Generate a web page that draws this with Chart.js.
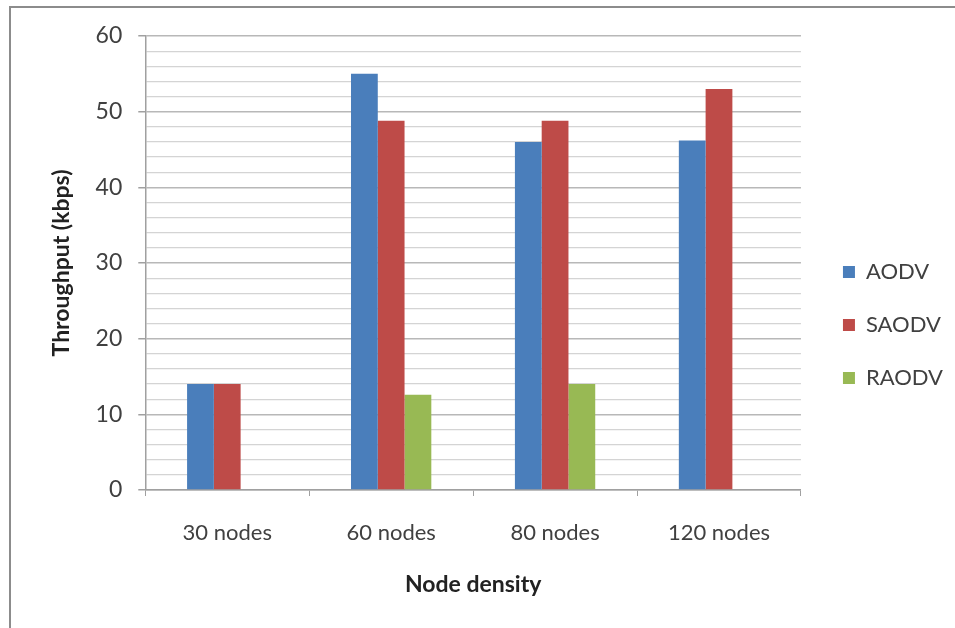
<!DOCTYPE html>
<html>
<head>
<meta charset="utf-8">
<script src="https://cdn.jsdelivr.net/npm/chart.js@4"></script>
<style>
    html, body { margin: 0; padding: 0; background: #fff; }
    #frame {
        position: absolute; left: 9px; top: 6px; width: 946px; height: 622px;
        border-left: 2px solid #8c8c8c; border-top: 2px solid #8c8c8c;
    }
    #wrap { position: absolute; left: 0; top: 0; width: 955px; height: 628px; }
</style>
</head>
<body>
<div id="frame"></div>
<div id="wrap"><canvas id="chart"></canvas></div>
<script>
const categories = ["30 nodes", "60 nodes", "80 nodes", "120 nodes"];
const aodv = [14, 55, 46, 46.2];
const saodv = [14, 48.8, 48.8, 53];
const raodv = [0, 12.6, 14, 0];
const yTicks = [0, 10, 20, 30, 40, 50, 60];

const font = "Lato, 'Open Sans', sans-serif";

// nudge the legend so it sits where the original one is
const legendShift = {
    id: "legendShift",
    afterLayout(chart) {
        const lg = chart.legend;
        if (lg) {
            lg.top += 6; lg.bottom += 6;
            lg.left += 11; lg.right += 11;
        }
    }
};

const ctx = document.getElementById("chart").getContext("2d");
new Chart(ctx, {
    type: "bar",
    data: {
        labels: categories,
        datasets: [
            { label: "AODV", data: aodv, backgroundColor: "#4a7ebb" },
            { label: "SAODV", data: saodv, backgroundColor: "#be4b48" },
            { label: "RAODV", data: raodv, backgroundColor: "#98b954" }
        ]
    },
    plugins: [legendShift],
    options: {
        responsive: true,
        maintainAspectRatio: false,
        animation: false,
        categoryPercentage: 0.49,
        barPercentage: 1.0,
        layout: { padding: { left: 44, right: 13, top: 36, bottom: 26 } },
        scales: {
            x: {
                grid: { drawOnChartArea: false, color: "#a0a0a0", tickLength: 6 },
                border: { color: "#a0a0a0", width: 1.5 },
                ticks: { color: "#404040", font: { family: font, size: 22 }, padding: 24 },
                title: {
                    display: true, text: "Node density", color: "#222",
                    font: { family: font, size: 23, weight: "bold" }, padding: { top: 0 }
                }
            },
            y: {
                min: 0, max: 60,
                ticks: {
                    stepSize: 2,
                    autoSkip: false,
                    color: "#404040",
                    font: { family: font, size: 23 },
                    padding: 16,
                    callback: v => yTicks.includes(v) ? v : ""
                },
                grid: {
                    color: c => (c.tick && c.tick.value % 10 === 0) ? "#b8b8b8" : "#d4d4d4",
                    lineWidth: c => (c.tick && c.tick.value % 10 === 0) ? 1.5 : 1.2,
                    tickColor: c => (c.tick && c.tick.value % 10 === 0) ? "#a0a0a0" : "rgba(0,0,0,0)",
                    tickLength: 7
                },
                border: { color: "#a0a0a0", width: 1.5 },
                title: {
                    display: true, text: "Throughput (kbps)", color: "#222",
                    font: { family: font, size: 23, weight: "bold" }, padding: { bottom: 4 }
                }
            }
        },
        plugins: {
            legend: {
                position: "right",
                labels: {
                    boxWidth: 12, boxHeight: 12, padding: 31,
                    color: "#404040",
                    font: { family: font, size: 22 }
                }
            },
            tooltip: { enabled: false }
        }
    }
});
</script>
</body>
</html>
